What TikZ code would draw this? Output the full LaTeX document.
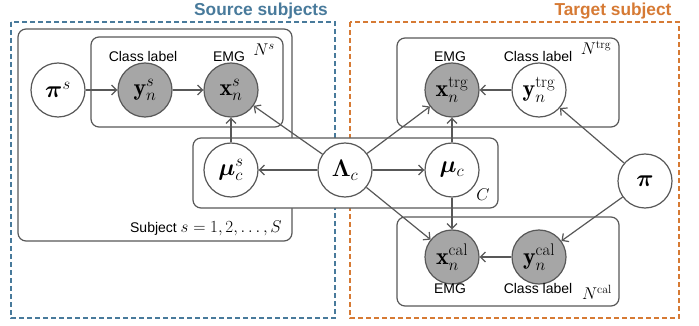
\RequirePackage{fix-cm}
\documentclass[tikz,border=0pt]{standalone}
\usepackage{amsmath,bm}
\usepackage{fontspec}
\newfontfamily\labelfont{Liberation Sans}
\usetikzlibrary{arrows.meta}

\definecolor{edgecol}{RGB}{88,88,88}
\definecolor{obscol}{RGB}{166,166,166}
\definecolor{srccol}{RGB}{72,122,155}
\definecolor{trgcol}{RGB}{214,122,52}

\begin{document}
\begin{tikzpicture}[x=1pt,y=-1pt,
  plate/.style={draw=edgecol, line width=1.2pt, rounded corners=8pt},
  rv/.style={circle, draw=edgecol, line width=1.2pt, fill=white, minimum size=54pt,
             inner sep=0pt, font=\fontsize{24}{28}\selectfont},
  obs/.style={rv, fill=obscol},
  edge/.style={-{Straight Barb[length=5pt,width=10pt]}, draw=edgecol, line width=1.2pt},
  lbl/.style={font=\labelfont\fontsize{14}{16}\selectfont, inner sep=0pt, anchor=base},
  platelbl/.style={font=\fontsize{17}{20}\selectfont, inner sep=0pt},
  grouptitle/.style={font=\labelfont\bfseries\fontsize{17.3}{20}\selectfont, inner sep=0pt, anchor=base},
  groupbox/.style={line width=2pt, dash pattern=on 5pt off 3pt}]

\useasboundingbox (0,0) rectangle (699,326);

% source / target groups
\draw[groupbox, srccol] (11,22) rectangle (335,318);
\draw[groupbox, trgcol] (350,22) rectangle (679,318);
\node[grouptitle, text=srccol] (srctitle) at (261,16) {Source subjects};
\node[grouptitle, text=trgcol] (trgtitle) at (613,16) {Target subject};

% plates
\draw[plate] (18,29) rectangle (292,241);
\draw[plate] (91,37) rectangle (283,127);
\draw[plate] (397,38) rectangle (619,127);
\draw[plate] (397,217) rectangle (619,306);
\draw[plate, fill=white] (193,138) rectangle (498,208);

\node[platelbl] (ns) at (264,50) {$N^s$};
\node[platelbl] (ntrg) at (596,48) {$N^{\mathrm{trg}}$};
\node[platelbl] (ncal) at (597,292) {$N^{\mathrm{cal}}$};
\node[platelbl] (clbl) at (483,195) {$C$};
\node[lbl, anchor=base east] (subj) at (282,233)
  {Subject {\fontsize{17}{20}\selectfont$s=1,2,\ldots,S$}};

% random variables
\node[rv] (pis) at (58,90) {$\bm{\pi}^s$};
\node[obs] (ys) at (145,90) {$\mathbf{y}_n^s$};
\node[obs] (xs) at (231,90) {$\mathbf{x}_n^s$};
\node[rv] (mus) at (231,170) {$\bm{\mu}_c^s$};
\node[rv] (lam) at (345,170) {$\bm{\Lambda}_c$};
\node[rv] (mu) at (452,170) {$\bm{\mu}_c$};
\node[obs] (xt) at (452,90) {$\mathbf{x}_n^{\mathrm{trg}}$};
\node[rv] (yt) at (539,90) {$\mathbf{y}_n^{\mathrm{trg}}$};
\node[rv] (pi) at (645,181) {$\bm{\pi}$};
\node[obs] (xc) at (452,257) {$\mathbf{x}_n^{\mathrm{cal}}$};
\node[obs] (yc) at (539,257) {$\mathbf{y}_n^{\mathrm{cal}}$};

% node captions
\node[lbl] (ysl) at (143,62) {Class label};
\node[lbl] (xsl) at (229,62) {EMG};
\node[lbl] (xtl) at (450,62) {EMG};
\node[lbl] (ytl) at (538,62) {Class label};
\node[lbl] (xcl) at (450,293) {EMG};
\node[lbl] (ycl) at (538,293) {Class label};

% dependencies
\draw[edge] (pis) -- (ys);
\draw[edge] (ys) -- (xs);
\draw[edge] (mus) -- (xs);
\draw[edge] (lam) -- (xs);
\draw[edge] (lam) -- (mus);
\draw[edge] (lam) -- (mu);
\draw[edge] (lam) -- (xt);
\draw[edge] (mu) -- (xt);
\draw[edge] (yt) -- (xt);
\draw[edge] (pi) -- (yt);
\draw[edge] (lam) -- (xc);
\draw[edge] (mu) -- (xc);
\draw[edge] (yc) -- (xc);
\draw[edge] (pi) -- (yc);
\end{tikzpicture}
\end{document}
